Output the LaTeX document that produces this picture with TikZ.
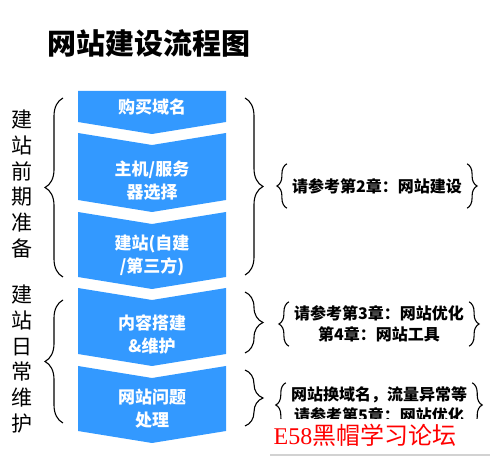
\documentclass[tikz,border=0pt]{standalone}
\usepackage{fontspec}
\setmainfont{Noto Sans CJK SC}
\newfontfamily\wmserif{Liberation Serif}
\usetikzlibrary{decorations.pathreplacing}
\definecolor{flowblue}{HTML}{3399FF}
\newcommand{\chevron}[2]{\fill[flow] (78,#1) -- (152,#1+12) -- (226,#1) -- (226,#2) -- (152,#2+12) -- (78,#2) -- cycle;}

\begin{document}
\begin{tikzpicture}[x=1pt, y=-1pt,
  flow/.style = {fill=flowblue},
  boxtext/.style = {text=white, font=\bfseries\fontsize{17}{23}\selectfont, align=center, inner sep=0pt},
  side/.style = {font=\fontsize{21}{25.8}\selectfont, align=center, inner sep=0pt},
  note/.style = {font=\bfseries\fontsize{16}{20.5}\selectfont, align=center, inner xsep=5pt, inner ysep=0pt, minimum height=44pt},
  bigbrace/.style = {decorate, decoration={brace, amplitude=18pt}, line width=1.1pt},
  smallbrace/.style = {decorate, decoration={brace, amplitude=10pt}, line width=1.1pt}
  ]
\useasboundingbox (0,0) rectangle (496,462);

% Title
\node[anchor=west, inner sep=0pt, font=\bfseries\fontsize{29}{29}\selectfont] (title) at (47,43) {网站建设流程图};

% Flow boxes
\fill[flow] (78,91) -- (226,91) -- (226,122) -- (152,134) -- (78,122) -- cycle;
\chevron{133}{200}
\chevron{212}{277}
\chevron{288}{354}
\chevron{366}{431}

\node[boxtext] (domain) at (152,107) {购买域名};
\node[boxtext] (host) at (152,181) {主机/服务\\器选择};
\node[boxtext] (build) at (152,255) {建站(自建\\/第三方)};
\node[boxtext] (content) at (152,334) {内容搭建\\\&维护};
\node[boxtext] (issue) at (152,409) {网站问题\\处理};

% Phase labels
\node[side] (prep) at (22,184) {建\\站\\前\\期\\准\\备};
\node[side] (daily) at (22,359) {建\\站\\日\\常\\维\\护};

% Braces
\draw[bigbrace] (63,277) -- (63,98);
\draw[bigbrace] (63,423) -- (63,300);
\draw[bigbrace] (245,98) -- (245,275);
\draw[bigbrace] (245,292) -- (245,353);
\draw[bigbrace] (245,370) -- (245,426);

% Notes
\node[note] (ref2) at (377,186) {请参考第2章：网站建设};
\node[note] (ref3) at (379,324) {请参考第3章：网站优化\\第4章：网站工具};
\node[note] (ref5) at (379,405) {网站换域名，流量异常等\\请参考第5章：网站优化};
\foreach \n in {ref2,ref3,ref5}{
  \draw[smallbrace] (\n.south west) -- (\n.north west);
  \draw[smallbrace] (\n.north east) -- (\n.south east);
}

% Watermark
\fill[white] (262,419) rectangle (494,452);
\node[text=red, inner sep=0pt, font=\fontsize{24}{24}\selectfont] (mark) at (365,435) {{\wmserif E58}黑帽学习论坛};
\draw[gray!35, line width=1.2pt] (270,455) -- (490,455);
\end{tikzpicture}
\end{document}
